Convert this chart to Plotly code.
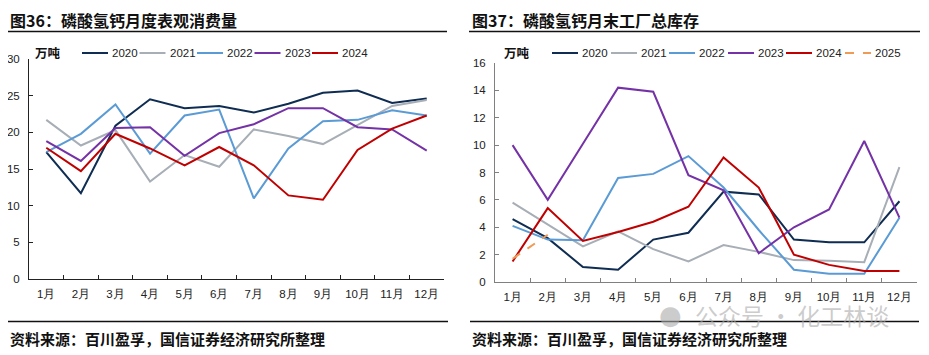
import plotly.graph_objects as go

months = ["1月", "2月", "3月", "4月", "5月", "6月", "7月", "8月", "9月", "10月", "11月", "12月"]

# 图36 磷酸氢钙月度表观消费量 (万吨)
cons_2020 = [17.3, 11.7, 20.9, 24.5, 23.3, 23.6, 22.7, 23.9, 25.4, 25.7, 24.0, 24.6]
cons_2021 = [21.7, 18.2, 20.3, 13.3, 16.9, 15.3, 20.4, 19.5, 18.4, 21.0, 23.6, 24.4]
cons_2022 = [17.3, 19.8, 23.8, 17.1, 22.3, 23.1, 11.0, 17.8, 21.5, 21.7, 23.0, 22.3]
cons_2023 = [18.8, 16.1, 20.6, 20.7, 16.8, 19.9, 21.1, 23.3, 23.3, 20.7, 20.4, 17.5]
cons_2024 = [17.9, 14.7, 19.8, 17.8, 15.5, 18.0, 15.5, 11.4, 10.8, 17.6, 20.5, 22.3]

# 图37 磷酸氢钙月末工厂总库存 (万吨)
inv_2020 = [4.6, 3.2, 1.1, 0.9, 3.1, 3.6, 6.6, 6.4, 3.1, 2.9, 2.9, 5.9]
inv_2021 = [5.8, 4.2, 2.6, 3.7, 2.4, 1.5, 2.7, 2.2, 1.6, 1.55, 1.45, 8.4]
inv_2022 = [4.1, 3.1, 3.05, 7.6, 7.9, 9.2, 6.9, 3.8, 0.9, 0.6, 0.6, 4.7]
inv_2023 = [10.0, 6.0, 10.1, 14.2, 13.9, 7.8, 6.7, 2.1, 4.0, 5.3, 10.3, 4.7]
inv_2024 = [1.5, 5.4, 3.0, 3.65, 4.4, 5.5, 9.1, 6.9, 2.0, 1.25, 0.8, 0.8]
inv_2025 = [1.7, 3.45]

years = ["2020", "2021", "2022", "2023", "2024"]
colors = ["#0f2d52", "#a7aeb6", "#5b9bd5", "#7432a6", "#c00000"]
color_2025 = "#ef9a55"

fig = go.Figure()

cons_series = [cons_2020, cons_2021, cons_2022, cons_2023, cons_2024]
for name, vals, col in zip(years, cons_series, colors):
    fig.add_trace(go.Scatter(x=months, y=vals, name=name, mode="lines",
                             line=dict(color=col, width=2),
                             xaxis="x", yaxis="y", showlegend=False))

inv_series = [inv_2020, inv_2021, inv_2022, inv_2023, inv_2024]
for name, vals, col in zip(years, inv_series, colors):
    fig.add_trace(go.Scatter(x=months, y=vals, name=name, mode="lines",
                             line=dict(color=col, width=2),
                             xaxis="x2", yaxis="y2", showlegend=False))
fig.add_trace(go.Scatter(x=months[:len(inv_2025)], y=inv_2025, name="2025", mode="lines",
                         line=dict(color=color_2025, width=2, dash="dash"),
                         xaxis="x2", yaxis="y2", showlegend=False))

# The page body has an 8px margin; the figure is sized to the visible area.
OFF = 8
W, H = 929 - OFF, 355 - OFF
def px(x):
    return (x - OFF) / W
def py(y):
    return 1 - (y - OFF) / H

tickfont = dict(family="Liberation Sans, Arial, sans-serif", size=11.5, color="#222")

axis_common = dict(showgrid=False, zeroline=False, ticks="inside", ticklen=4,
                   tickfont=tickfont, showline=True, fixedrange=True, automargin=False)

fig.update_layout(
    width=W, height=H,
    margin=dict(l=0, r=0, t=0, b=0),
    paper_bgcolor="white", plot_bgcolor="white",
    font=dict(family="Noto Sans CJK SC, Liberation Sans, sans-serif", color="#111"),
    xaxis=dict(domain=[px(29), px(444)], anchor="y", type="category", tickangle=0,
               categoryorder="array", categoryarray=months, range=[-0.5, len(months) - 0.5],
               tickson="boundaries", linecolor="#222", tickcolor="#222",
               ticklabelstandoff=4, **axis_common),
    yaxis=dict(domain=[py(279), py(59)], anchor="x", range=[0, 30], dtick=5,
               linecolor="#222", tickcolor="#222", ticklabelstandoff=6, **axis_common),
    xaxis2=dict(domain=[px(495), px(917)], anchor="y2", type="category", tickangle=0,
                categoryorder="array", categoryarray=months, range=[-0.5, len(months) - 0.5],
                tickson="boundaries", linecolor="#808080", tickcolor="#808080",
                ticklabelstandoff=4, **axis_common),
    yaxis2=dict(domain=[py(282), py(63)], anchor="x2", range=[0, 16], dtick=2,
                linecolor="#808080", tickcolor="#808080", ticklabelstandoff=6, **axis_common),
    showlegend=False,
)

title_font = dict(family="Noto Sans CJK SC", size=16, color="#111")
src_font = dict(family="Noto Sans CJK SC", size=15, color="#111")
unit_font = dict(family="Noto Sans CJK SC", size=12.5, color="#111")
leg_font = dict(family="Liberation Sans, Arial", size=11.5, color="#222")

annotations = [
    dict(text="<b>图36：磷酸氢钙月度表观消费量</b>", x=px(8), y=py(19.5), xanchor="left", yanchor="middle", font=title_font),
    dict(text="<b>图37：磷酸氢钙月末工厂总库存</b>", x=px(470), y=py(19.5), xanchor="left", yanchor="middle", font=title_font),
    dict(text="<b>资料来源：百川盈孚，国信证券经济研究所整理</b>", x=px(8), y=py(338), xanchor="left", yanchor="middle", font=src_font),
    dict(text="<b>资料来源：百川盈孚，国信证券经济研究所整理</b>", x=px(470), y=py(338), xanchor="left", yanchor="middle", font=src_font),
    dict(text="<b>万吨</b>", x=px(33), y=py(52), xanchor="left", yanchor="middle", font=unit_font),
    dict(text="<b>万吨</b>", x=px(502), y=py(52), xanchor="left", yanchor="middle", font=unit_font),
    dict(text="公众号 · 化工林谈", x=px(693), y=py(315), xanchor="left", yanchor="middle",
         font=dict(family="Noto Sans CJK SC", size=23, color="rgba(170,170,170,0.6)")),
    dict(text="●", x=px(670), y=py(315), xanchor="center", yanchor="middle",
         font=dict(family="DejaVu Sans", size=26, color="rgba(170,170,170,0.6)")),
]

shapes = [
    dict(type="line", x0=px(8), x1=px(447), y0=py(31.5), y1=py(31.5), line=dict(color="#111", width=1.5)),
    dict(type="line", x0=px(469), x1=px(920), y0=py(31.5), y1=py(31.5), line=dict(color="#111", width=1.5)),
    dict(type="line", x0=px(8), x1=px(448), y0=py(321.5), y1=py(321.5), line=dict(color="#111", width=1.5)),
    dict(type="line", x0=px(470), x1=px(919), y0=py(321.5), y1=py(321.5), line=dict(color="#111", width=1.5)),
]

# manual legends (line sample + label)
left_leg_x = [82, 139.5, 197, 254.5, 312]
right_leg_x = [552, 611, 669, 728, 786, 845]
leg_y = 53
for name, col, lx in zip(years, colors, left_leg_x):
    shapes.append(dict(type="line", x0=px(lx), x1=px(lx + 26), y0=py(leg_y), y1=py(leg_y),
                       line=dict(color=col, width=2)))
    annotations.append(dict(text=name, x=px(lx + 28), y=py(leg_y), xanchor="left", yanchor="middle", font=leg_font))
for name, col, lx in zip(years + ["2025"], colors + [color_2025], right_leg_x):
    dash = "dash" if name == "2025" else "solid"
    shapes.append(dict(type="line", x0=px(lx), x1=px(lx + 26), y0=py(leg_y), y1=py(leg_y),
                       line=dict(color=col, width=2, dash=dash)))
    annotations.append(dict(text=name, x=px(lx + 28), y=py(leg_y), xanchor="left", yanchor="middle", font=leg_font))

for a in annotations:
    a.update(xref="paper", yref="paper", showarrow=False)
for s in shapes:
    s.update(xref="paper", yref="paper")
fig.update_layout(annotations=annotations, shapes=shapes)

fig.write_html("out.html")
